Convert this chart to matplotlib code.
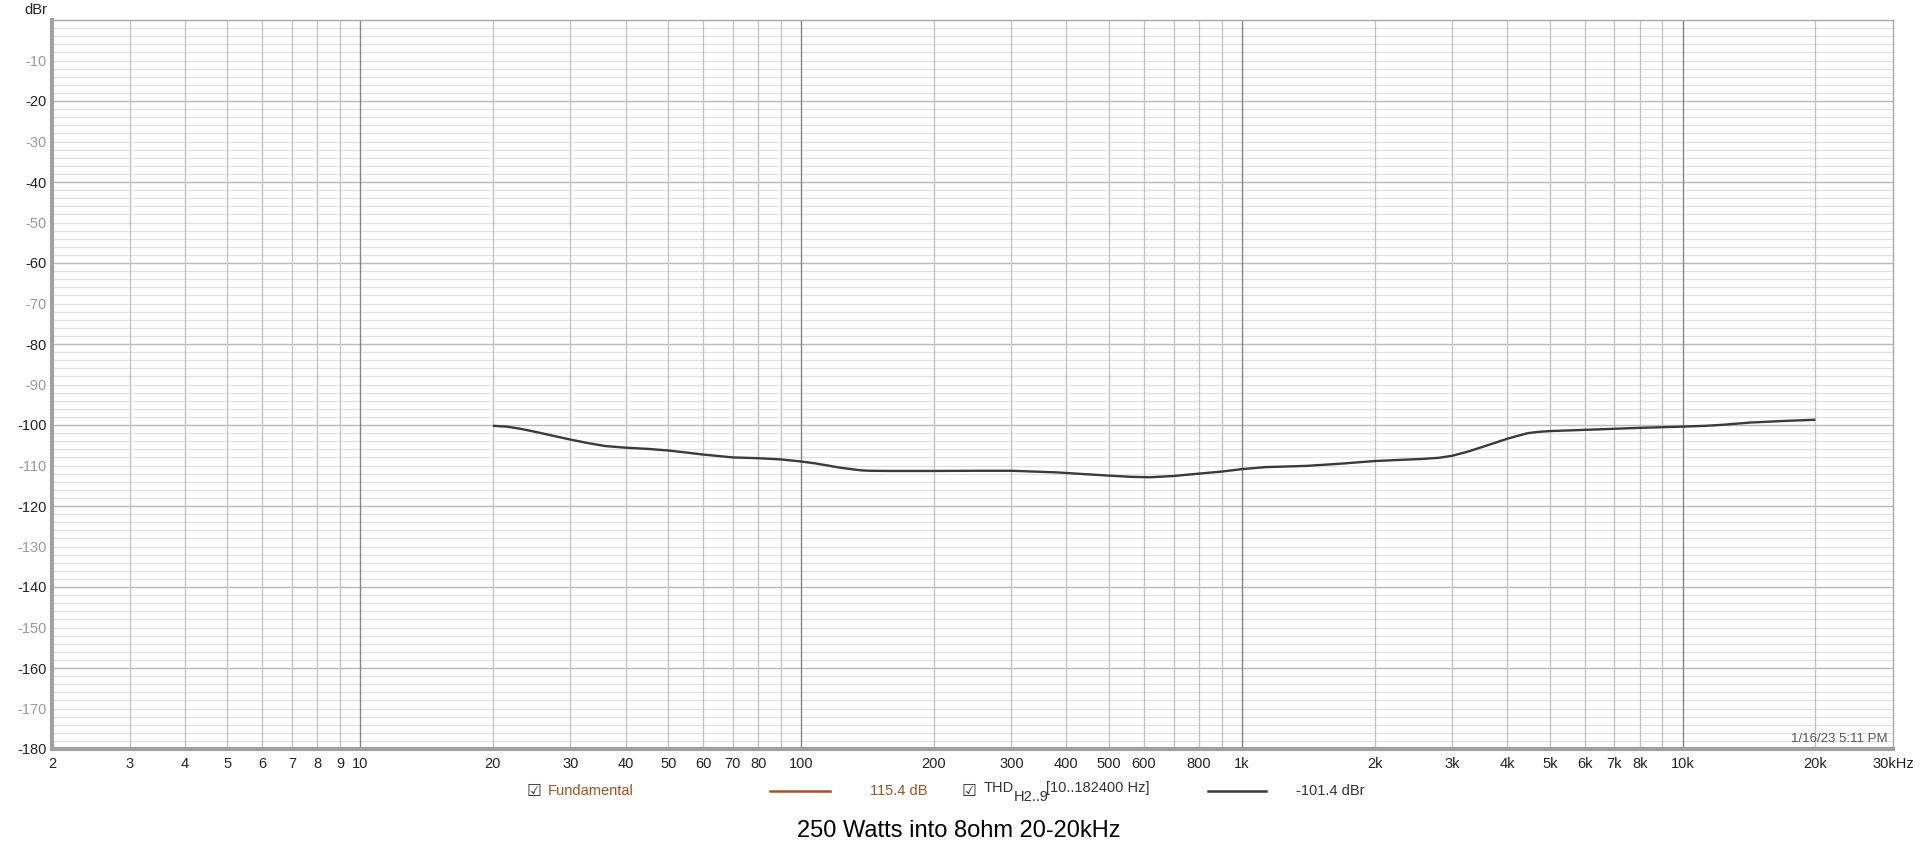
import numpy as np
import matplotlib
matplotlib.use("Agg")
import matplotlib.pyplot as plt

plt.rcParams['font.family'] = ['Liberation Sans', 'DejaVu Sans']

# THD H2..9 curve (Hz, dBr)
thd_freq = [20, 21.5, 23, 25, 27.5, 30, 33, 36, 40, 45, 50, 55, 60, 70, 80, 90, 100,
            108, 115, 122, 130, 137, 143, 160, 200, 250, 300, 380, 450, 500, 560,
            618, 700, 800, 900, 1000, 1130, 1400, 1700, 2000, 2300, 2550, 2800, 3000,
            3250, 3540, 3800, 4000, 4250, 4460, 4700, 5000, 6000, 8000, 10000, 11300,
            12500, 14200, 17000, 20000]
thd_db = [-100.2, -100.4, -100.9, -101.7, -102.7, -103.6, -104.5, -105.2, -105.6,
          -105.9, -106.3, -106.8, -107.3, -108.0, -108.2, -108.5, -109.0, -109.5,
          -110.0, -110.5, -110.9, -111.2, -111.3, -111.35, -111.35, -111.3, -111.3,
          -111.7, -112.2, -112.5, -112.8, -112.9, -112.6, -112.0, -111.5, -110.9,
          -110.4, -110.1, -109.5, -108.9, -108.6, -108.4, -108.1, -107.6, -106.6,
          -105.3, -104.2, -103.4, -102.6, -102.0, -101.7, -101.5, -101.2, -100.7,
          -100.4, -100.2, -99.9, -99.4, -99.0, -98.7]

x_ticks = [2, 3, 4, 5, 6, 7, 8, 9, 10, 20, 30, 40, 50, 60, 70, 80, 90, 100, 200, 300,
           400, 500, 600, 700, 800, 900, 1000, 2000, 3000, 4000, 5000, 6000, 7000,
           8000, 9000, 10000, 20000, 30000]
x_labels = ['2', '3', '4', '5', '6', '7', '8', '9', '10', '20', '30', '40', '50', '60',
            '70', '80', '', '100', '200', '300', '400', '500', '600', '', '800', '',
            '1k', '2k', '3k', '4k', '5k', '6k', '7k', '8k', '', '10k', '20k', '30kHz']
y_ticks = list(range(-180, 0, 10))

fig = plt.figure(figsize=(19.2, 8.5), dpi=100)
ax = fig.add_axes([52/1920, 101/850, 1841/1920, 729/850])
ax.set_xscale('log')
ax.set_xlim(2, 30000)
ax.set_ylim(-180, 0)

# grid
for v in np.arange(-178, 0, 2):
    if v % 20 == 0:
        ax.axhline(v, color='#b8b8b8', lw=1.0, zorder=1)
    else:
        ax.axhline(v, color='#e0e0e0', lw=0.9, zorder=1)
for f in x_ticks[:-1]:
    if f in (10, 100, 1000, 10000):
        ax.axvline(f, color='#858585', lw=1.0, zorder=1)
    elif f != 2:
        ax.axvline(f, color='#c4c4c4', lw=1.0, zorder=1)

ax.plot(thd_freq, thd_db, color='#3a3a3a', lw=1.7, zorder=3, solid_capstyle='butt',
        solid_joinstyle='round')

ax.set_xticks(x_ticks)
ax.set_xticklabels(x_labels)
ax.xaxis.set_minor_locator(matplotlib.ticker.NullLocator())
ax.set_yticks(y_ticks)
ax.set_yticklabels([str(v) for v in y_ticks])
ax.tick_params(axis='both', length=0, labelsize=10.5)
ax.tick_params(axis='x', pad=6, labelcolor='#222222')
ax.tick_params(axis='y', pad=4)
for lab, v in zip(ax.get_yticklabels(), y_ticks):
    lab.set_color('#222222' if v % 20 == 0 else '#999999')

for s in ax.spines.values():
    s.set_color('#a8a8a8')
    s.set_linewidth(1.0)
ax.spines['left'].set_linewidth(3)
ax.spines['bottom'].set_linewidth(3)
ax.spines['left'].set_color('#a0a0a0')
ax.spines['bottom'].set_color('#a0a0a0')

fig.text(24/1920, 1 - 10/850, 'dBr', fontsize=10.5, color='#222222', va='center')
ax.text(0.997, 0.006, '1/16/23 5:11 PM', transform=ax.transAxes, ha='right', va='bottom',
        fontsize=9.5, color='#555555', zorder=4)

# legend row
ly = 1 - 791/850
orange = '#a8511a'
fig.text(527/1920, ly, '\u2611', fontsize=12, color='#333333', va='center',
         family='DejaVu Sans')
fig.text(548/1920, ly, 'Fundamental', fontsize=10.5, color=orange, va='center')
fig.add_artist(plt.Line2D([770/1920, 830/1920], [ly, ly], color=orange, lw=1.8))
fig.text(870/1920, ly, '115.4 dB', fontsize=10.5, color=orange, va='center')
fig.text(962/1920, ly, '\u2611', fontsize=12, color='#333333', va='center',
         family='DejaVu Sans')
fig.text(984/1920, ly + 3/850, 'THD', fontsize=10.5, color='#333333', va='center')
fig.text(1014/1920, ly - 6/850, 'H2..9', fontsize=10.5, color='#333333', va='center')
fig.text(1046/1920, ly + 3/850, '[10..182400 Hz]', fontsize=10.5, color='#333333',
         va='center')
fig.add_artist(plt.Line2D([1208/1920, 1266/1920], [ly, ly], color='#3a3a3a', lw=1.8))
fig.text(1296/1920, ly, '-101.4 dBr', fontsize=10.5, color='#333333', va='center')

fig.text(0.4995, 1 - 831/850, '250 Watts into 8ohm 20-20kHz', fontsize=17, color='black',
         ha='center', va='center')

fig.savefig('out.png', dpi=100, facecolor='white')
